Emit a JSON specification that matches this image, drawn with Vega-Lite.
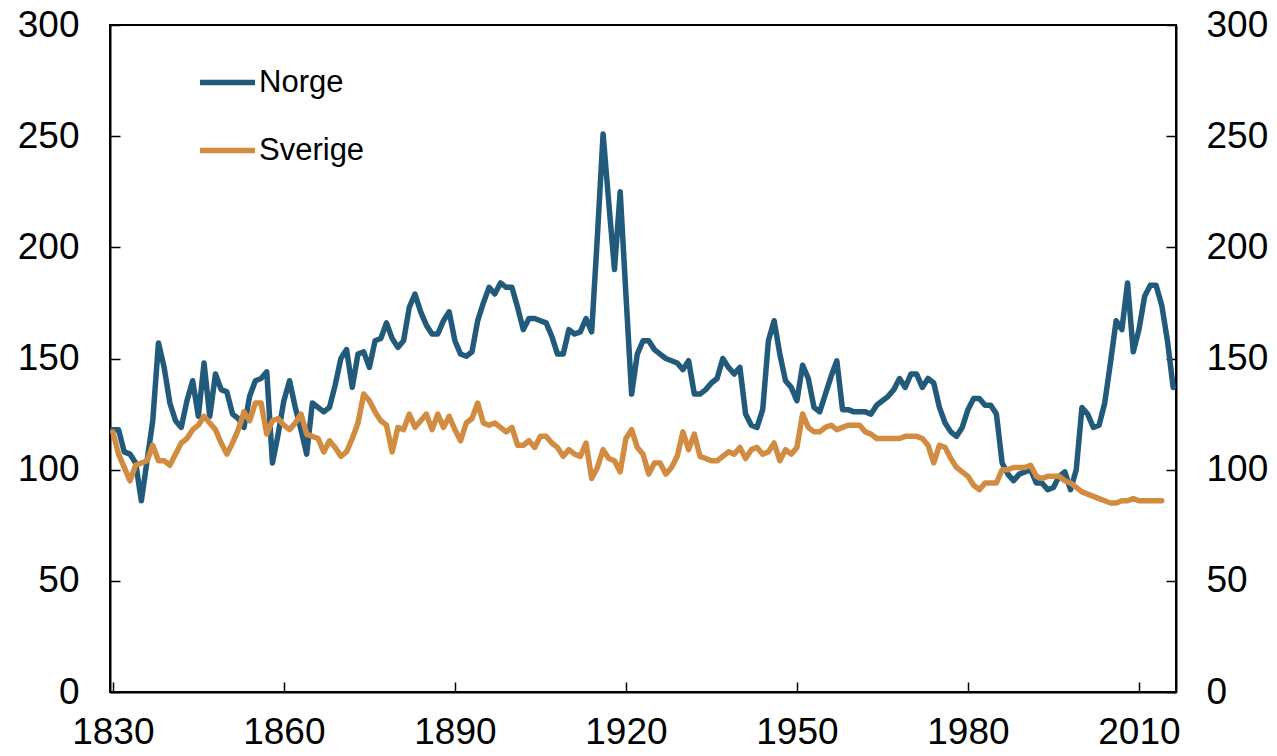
{
  "$schema": "https://vega.github.io/schema/vega-lite/v6.json",
  "width": 1066,
  "height": 667,
  "autosize": "none",
  "padding": {"left": 110, "top": 25, "right": 101, "bottom": 64},
  "background": "white",
  "config": {
    "font": "Liberation Sans",
    "view": {"stroke": "black", "strokeWidth": 2},
    "axis": {
      "grid": false,
      "domainColor": "black",
      "domainWidth": 2,
      "tickColor": "black",
      "tickWidth": 1.5,
      "tickSize": -10,
      "labelFont": "Liberation Sans",
      "labelFontSize": 37,
      "labelColor": "black",
      "title": null
    },
    "legend": {
      "orient": "none",
      "legendX": 87,
      "legendY": 27,
      "title": null,
      "padding": 0,
      "labelFont": "Liberation Sans",
      "labelFontSize": 31,
      "labelColor": "black",
      "labelOffset": 1,
      "symbolType": "stroke",
      "symbolSize": 3025,
      "symbolStrokeWidth": 5.5,
      "rowPadding": 22
    }
  },
  "data": {"values": [
    {"year":1830,"Norge":118,"Sverige":117},
    {"year":1831,"Norge":118,"Sverige":107},
    {"year":1832,"Norge":108,"Sverige":101},
    {"year":1833,"Norge":107,"Sverige":95},
    {"year":1834,"Norge":103,"Sverige":102},
    {"year":1835,"Norge":86,"Sverige":103},
    {"year":1836,"Norge":104,"Sverige":104},
    {"year":1837,"Norge":122,"Sverige":111},
    {"year":1838,"Norge":157,"Sverige":104},
    {"year":1839,"Norge":146,"Sverige":104},
    {"year":1840,"Norge":130,"Sverige":102},
    {"year":1841,"Norge":122,"Sverige":107},
    {"year":1842,"Norge":119,"Sverige":112},
    {"year":1843,"Norge":131,"Sverige":114},
    {"year":1844,"Norge":140,"Sverige":118},
    {"year":1845,"Norge":124,"Sverige":120},
    {"year":1846,"Norge":148,"Sverige":124},
    {"year":1847,"Norge":124,"Sverige":121},
    {"year":1848,"Norge":143,"Sverige":118},
    {"year":1849,"Norge":136,"Sverige":112},
    {"year":1850,"Norge":135,"Sverige":107},
    {"year":1851,"Norge":125,"Sverige":112},
    {"year":1852,"Norge":123,"Sverige":118},
    {"year":1853,"Norge":119,"Sverige":126},
    {"year":1854,"Norge":133,"Sverige":122},
    {"year":1855,"Norge":140,"Sverige":130},
    {"year":1856,"Norge":141,"Sverige":130},
    {"year":1857,"Norge":144,"Sverige":116},
    {"year":1858,"Norge":103,"Sverige":122},
    {"year":1859,"Norge":116,"Sverige":123},
    {"year":1860,"Norge":131,"Sverige":120},
    {"year":1861,"Norge":140,"Sverige":118},
    {"year":1862,"Norge":128,"Sverige":121},
    {"year":1863,"Norge":118,"Sverige":125},
    {"year":1864,"Norge":107,"Sverige":116},
    {"year":1865,"Norge":130,"Sverige":115},
    {"year":1866,"Norge":128,"Sverige":114},
    {"year":1867,"Norge":126,"Sverige":108},
    {"year":1868,"Norge":128,"Sverige":113},
    {"year":1869,"Norge":138,"Sverige":110},
    {"year":1870,"Norge":150,"Sverige":106},
    {"year":1871,"Norge":154,"Sverige":108},
    {"year":1872,"Norge":137,"Sverige":114},
    {"year":1873,"Norge":152,"Sverige":121},
    {"year":1874,"Norge":153,"Sverige":134},
    {"year":1875,"Norge":146,"Sverige":131},
    {"year":1876,"Norge":158,"Sverige":126},
    {"year":1877,"Norge":159,"Sverige":122},
    {"year":1878,"Norge":166,"Sverige":120},
    {"year":1879,"Norge":159,"Sverige":108},
    {"year":1880,"Norge":155,"Sverige":119},
    {"year":1881,"Norge":158,"Sverige":118},
    {"year":1882,"Norge":173,"Sverige":125},
    {"year":1883,"Norge":179,"Sverige":119},
    {"year":1884,"Norge":171,"Sverige":122},
    {"year":1885,"Norge":165,"Sverige":125},
    {"year":1886,"Norge":161,"Sverige":118},
    {"year":1887,"Norge":161,"Sverige":125},
    {"year":1888,"Norge":167,"Sverige":119},
    {"year":1889,"Norge":171,"Sverige":124},
    {"year":1890,"Norge":158,"Sverige":118},
    {"year":1891,"Norge":152,"Sverige":113},
    {"year":1892,"Norge":151,"Sverige":121},
    {"year":1893,"Norge":153,"Sverige":123},
    {"year":1894,"Norge":167,"Sverige":130},
    {"year":1895,"Norge":175,"Sverige":121},
    {"year":1896,"Norge":182,"Sverige":120},
    {"year":1897,"Norge":179,"Sverige":121},
    {"year":1898,"Norge":184,"Sverige":119},
    {"year":1899,"Norge":182,"Sverige":117},
    {"year":1900,"Norge":182,"Sverige":119},
    {"year":1901,"Norge":173,"Sverige":111},
    {"year":1902,"Norge":163,"Sverige":111},
    {"year":1903,"Norge":168,"Sverige":113},
    {"year":1904,"Norge":168,"Sverige":110},
    {"year":1905,"Norge":167,"Sverige":115},
    {"year":1906,"Norge":166,"Sverige":115},
    {"year":1907,"Norge":160,"Sverige":112},
    {"year":1908,"Norge":152,"Sverige":110},
    {"year":1909,"Norge":152,"Sverige":106},
    {"year":1910,"Norge":163,"Sverige":109},
    {"year":1911,"Norge":161,"Sverige":107},
    {"year":1912,"Norge":162,"Sverige":106},
    {"year":1913,"Norge":168,"Sverige":112},
    {"year":1914,"Norge":162,"Sverige":96},
    {"year":1915,"Norge":205,"Sverige":101},
    {"year":1916,"Norge":251,"Sverige":109},
    {"year":1917,"Norge":220,"Sverige":105},
    {"year":1918,"Norge":190,"Sverige":104},
    {"year":1919,"Norge":225,"Sverige":99},
    {"year":1920,"Norge":179,"Sverige":114},
    {"year":1921,"Norge":134,"Sverige":118},
    {"year":1922,"Norge":152,"Sverige":110},
    {"year":1923,"Norge":158,"Sverige":107},
    {"year":1924,"Norge":158,"Sverige":98},
    {"year":1925,"Norge":154,"Sverige":103},
    {"year":1926,"Norge":152,"Sverige":103},
    {"year":1927,"Norge":150,"Sverige":98},
    {"year":1928,"Norge":149,"Sverige":101},
    {"year":1929,"Norge":148,"Sverige":106},
    {"year":1930,"Norge":145,"Sverige":117},
    {"year":1931,"Norge":149,"Sverige":109},
    {"year":1932,"Norge":134,"Sverige":116},
    {"year":1933,"Norge":134,"Sverige":106},
    {"year":1934,"Norge":136,"Sverige":105},
    {"year":1935,"Norge":139,"Sverige":104},
    {"year":1936,"Norge":141,"Sverige":104},
    {"year":1937,"Norge":150,"Sverige":106},
    {"year":1938,"Norge":146,"Sverige":108},
    {"year":1939,"Norge":143,"Sverige":107},
    {"year":1940,"Norge":146,"Sverige":110},
    {"year":1941,"Norge":125,"Sverige":105},
    {"year":1942,"Norge":120,"Sverige":109},
    {"year":1943,"Norge":119,"Sverige":110},
    {"year":1944,"Norge":127,"Sverige":107},
    {"year":1945,"Norge":158,"Sverige":108},
    {"year":1946,"Norge":167,"Sverige":112},
    {"year":1947,"Norge":152,"Sverige":104},
    {"year":1948,"Norge":140,"Sverige":109},
    {"year":1949,"Norge":137,"Sverige":107},
    {"year":1950,"Norge":131,"Sverige":110},
    {"year":1951,"Norge":147,"Sverige":125},
    {"year":1952,"Norge":141,"Sverige":119},
    {"year":1953,"Norge":128,"Sverige":117},
    {"year":1954,"Norge":126,"Sverige":117},
    {"year":1955,"Norge":134,"Sverige":119},
    {"year":1956,"Norge":142,"Sverige":120},
    {"year":1957,"Norge":149,"Sverige":118},
    {"year":1958,"Norge":127,"Sverige":119},
    {"year":1959,"Norge":127,"Sverige":120},
    {"year":1960,"Norge":126,"Sverige":120},
    {"year":1961,"Norge":126,"Sverige":120},
    {"year":1962,"Norge":126,"Sverige":117},
    {"year":1963,"Norge":125,"Sverige":116},
    {"year":1964,"Norge":129,"Sverige":114},
    {"year":1965,"Norge":131,"Sverige":114},
    {"year":1966,"Norge":133,"Sverige":114},
    {"year":1967,"Norge":136,"Sverige":114},
    {"year":1968,"Norge":141,"Sverige":114},
    {"year":1969,"Norge":137,"Sverige":115},
    {"year":1970,"Norge":143,"Sverige":115},
    {"year":1971,"Norge":143,"Sverige":115},
    {"year":1972,"Norge":137,"Sverige":114},
    {"year":1973,"Norge":141,"Sverige":111},
    {"year":1974,"Norge":139,"Sverige":103},
    {"year":1975,"Norge":128,"Sverige":111},
    {"year":1976,"Norge":121,"Sverige":110},
    {"year":1977,"Norge":117,"Sverige":105},
    {"year":1978,"Norge":115,"Sverige":101},
    {"year":1979,"Norge":119,"Sverige":99},
    {"year":1980,"Norge":127,"Sverige":97},
    {"year":1981,"Norge":132,"Sverige":93},
    {"year":1982,"Norge":132,"Sverige":91},
    {"year":1983,"Norge":129,"Sverige":94},
    {"year":1984,"Norge":129,"Sverige":94},
    {"year":1985,"Norge":125,"Sverige":94},
    {"year":1986,"Norge":103,"Sverige":100},
    {"year":1987,"Norge":98,"Sverige":100},
    {"year":1988,"Norge":95,"Sverige":101},
    {"year":1989,"Norge":98,"Sverige":101},
    {"year":1990,"Norge":99,"Sverige":101},
    {"year":1991,"Norge":100,"Sverige":102},
    {"year":1992,"Norge":94,"Sverige":97},
    {"year":1993,"Norge":94,"Sverige":96},
    {"year":1994,"Norge":91,"Sverige":97},
    {"year":1995,"Norge":92,"Sverige":97},
    {"year":1996,"Norge":97,"Sverige":97},
    {"year":1997,"Norge":99,"Sverige":95},
    {"year":1998,"Norge":91,"Sverige":94},
    {"year":1999,"Norge":100,"Sverige":92},
    {"year":2000,"Norge":128,"Sverige":90},
    {"year":2001,"Norge":125,"Sverige":89},
    {"year":2002,"Norge":119,"Sverige":88},
    {"year":2003,"Norge":120,"Sverige":87},
    {"year":2004,"Norge":130,"Sverige":86},
    {"year":2005,"Norge":148,"Sverige":85},
    {"year":2006,"Norge":167,"Sverige":85},
    {"year":2007,"Norge":163,"Sverige":86},
    {"year":2008,"Norge":184,"Sverige":86},
    {"year":2009,"Norge":153,"Sverige":87},
    {"year":2010,"Norge":163,"Sverige":86},
    {"year":2011,"Norge":178,"Sverige":86},
    {"year":2012,"Norge":183,"Sverige":86},
    {"year":2013,"Norge":183,"Sverige":86},
    {"year":2014,"Norge":174,"Sverige":86},
    {"year":2015,"Norge":158,"Sverige":null},
    {"year":2016,"Norge":137,"Sverige":null}
  ]},
  "transform": [{"fold": ["Norge", "Sverige"], "as": ["series", "value"]}],
  "layer": [
    {
      "mark": {"type": "line", "strokeWidth": 5.5, "strokeJoin": "round", "strokeCap": "round"},
      "encoding": {
        "x": {
          "field": "year", "type": "quantitative",
          "scale": {"domain": [1829.5, 2016.5], "nice": false, "zero": false},
          "axis": {"values": [1830, 1860, 1890, 1920, 1950, 1980, 2010], "format": "d", "labelPadding": 32, "labelFlush": false}
        },
        "y": {
          "field": "value", "type": "quantitative",
          "scale": {"domain": [0, 300], "nice": false},
          "axis": {"orient": "left", "values": [0, 50, 100, 150, 200, 250, 300], "labelPadding": 41}
        },
        "color": {
          "field": "series", "type": "nominal",
          "scale": {"domain": ["Norge", "Sverige"], "range": ["#215a7b", "#d18c41"]}
        }
      }
    },
    {
      "mark": {"type": "line", "strokeOpacity": 0},
      "encoding": {
        "x": {"field": "year", "type": "quantitative"},
        "y": {
          "field": "value", "type": "quantitative",
          "axis": {"orient": "right", "values": [0, 50, 100, 150, 200, 250, 300], "labelPadding": 40}
        },
        "detail": {"field": "series", "type": "nominal"}
      }
    }
  ],
  "resolve": {"axis": {"y": "independent"}}
}
